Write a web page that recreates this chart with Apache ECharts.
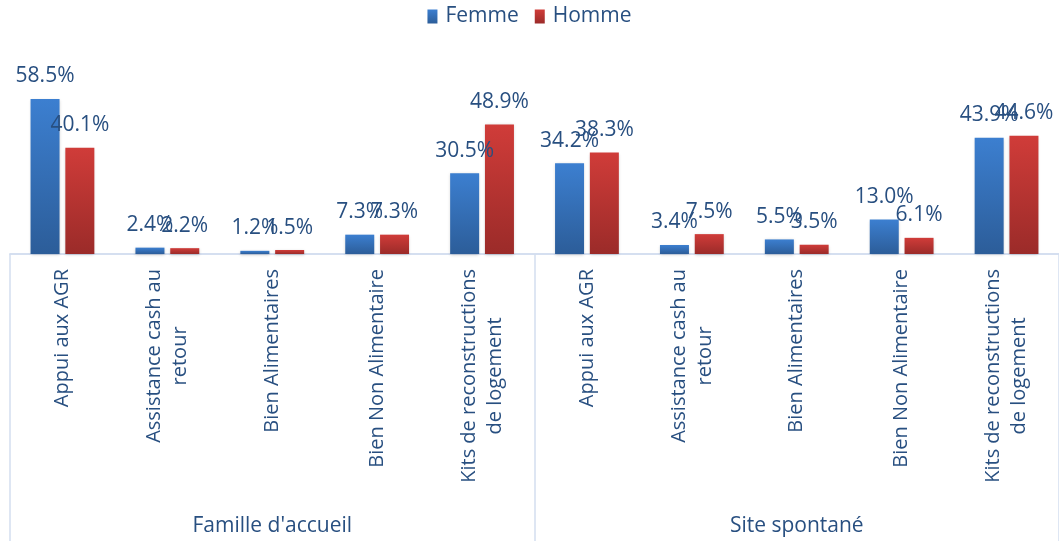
<!DOCTYPE html>
<html>
<head>
<meta charset="utf-8">
<script src="https://cdn.jsdelivr.net/npm/echarts@6/dist/echarts.min.js"></script>
<style>
  html, body { margin: 0; padding: 0; background: #fff; }
  #chart { width: 1059px; height: 541px; }
</style>
</head>
<body>
<div id="chart"></div>
<script>
// categories (two groups of five)
const groups = ['Famille d\'accueil', 'Site spontané']
const categories = [
  'Appui aux AGR', 'Assistance cash au\nretour', 'Bien Alimentaires', 'Bien Non Alimentaire', 'Kits de reconstructions\nde logement',
  'Appui aux AGR', 'Assistance cash au\nretour', 'Bien Alimentaires', 'Bien Non Alimentaire', 'Kits de reconstructions\nde logement'
]
const femme = [58.5, 2.4, 1.2, 7.3, 30.5, 34.2, 3.4, 5.5, 13.0, 43.9]
const homme = [40.1, 2.2, 1.5, 7.3, 48.9, 38.3, 7.5, 3.5, 6.1, 44.6]

const textColor = '#284f80'
const lineColor = '#d3def0'
const fontFamily = 'Open Sans'

const grad = (top, bottom) => new echarts.graphic.LinearGradient(0, 0, 0, 1, [
  { offset: 0, color: top },
  { offset: 1, color: bottom }
])

const chart = echarts.init(document.getElementById('chart'))

const barLabel = {
  show: true,
  position: 'top',
  distance: 12,
  color: textColor,
  fontSize: 21,
  fontFamily,
  formatter: p => p.value.toFixed(1) + '%'
}

chart.setOption({
  animation: false,
  legend: {
    top: 1,
    left: 'center',
    icon: 'rect',
    itemWidth: 10,
    itemHeight: 14,
    itemGap: 16,
    textStyle: { color: textColor, fontSize: 21, fontFamily, padding: [0, 0, 0, 3] },
    data: ['Femme', 'Homme']
  },
  grid: { left: 10, right: -7, top: 95, bottom: 287 },
  xAxis: [
    {
      type: 'category',
      data: categories,
      axisLine: { lineStyle: { color: lineColor, width: 1.5 } },
      axisTick: { show: false },
      axisLabel: {
        interval: 0,
        rotate: 90,
        margin: 15,
        align: 'right',
        verticalAlign: 'middle',
        formatter: v => v.split('\n').map(s => '{c|' + s + '}').join('\n'),
        rich: {
          c: { align: 'center', color: textColor, fontSize: 20, fontFamily, lineHeight: 26 }
        }
      }
    },
    {
      type: 'category',
      position: 'bottom',
      data: groups,
      axisLine: { lineStyle: { color: lineColor, width: 1.5 } },
      axisTick: { show: true, length: 290, interval: 0, lineStyle: { color: lineColor, width: 1.5 } },
      axisLabel: { margin: 262, color: textColor, fontSize: 21, fontFamily }
    }
  ],
  yAxis: { type: 'value', min: 0, max: 60, show: false },
  series: [
    {
      name: 'Femme',
      type: 'bar',
      data: femme,
      barWidth: 29,
      barGap: '20%',
      itemStyle: { color: grad('#3c7fd0', '#2c5d99'), shadowColor: 'rgba(0,0,0,0.2)', shadowBlur: 3, shadowOffsetY: 1 },
      label: barLabel
    },
    {
      name: 'Homme',
      type: 'bar',
      data: homme,
      barWidth: 29,
      itemStyle: { color: grad('#d03c39', '#9b2b29'), shadowColor: 'rgba(0,0,0,0.2)', shadowBlur: 3, shadowOffsetY: 1 },
      label: barLabel
    }
  ]
})
</script>
</body>
</html>
